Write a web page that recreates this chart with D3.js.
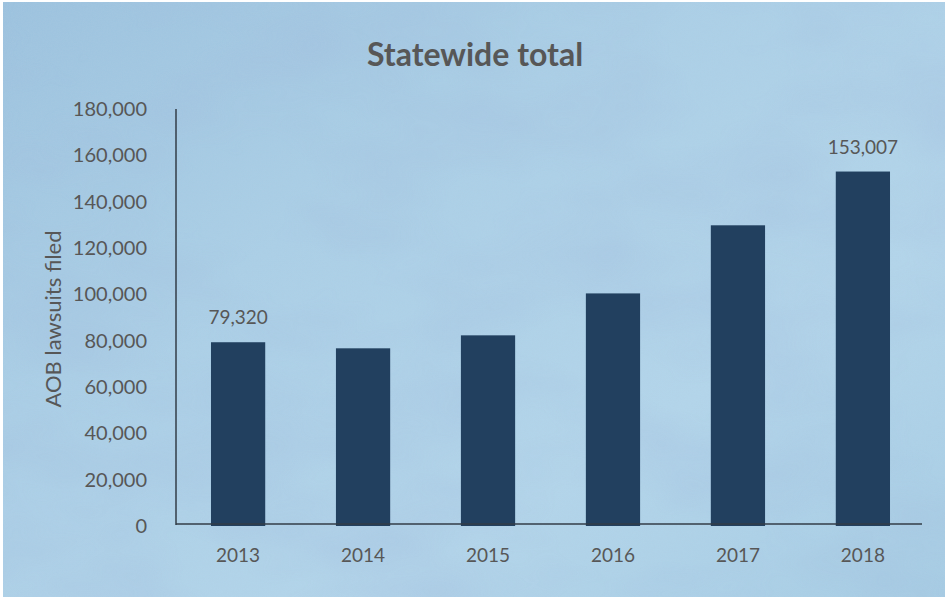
<!DOCTYPE html>
<html>
<head>
<meta charset="utf-8">
<script src="https://cdn.jsdelivr.net/npm/d3@7"></script>
<style>
  body { margin: 0; background: #fff; }
  text { font-family: Lato, "Open Sans", sans-serif; fill: #575757; }
  .title { font-size: 32px; font-weight: 700; }
  .tick-label { font-size: 20px; }
  .x-label { font-size: 19px; }
  .y-title { font-size: 22px; }
</style>
</head>
<body>
<svg width="945" height="597"></svg>
<script>
const width = 945;
const height = 597;

const years = ['2013', '2014', '2015', '2016', '2017', '2018'];
const lawsuits = [79320, 76700, 82300, 100400, 129800, 153007];
const yTicks = [0, 20000, 40000, 60000, 80000, 100000, 120000, 140000, 160000, 180000];
const labelled = ['2013', '2018'];

const data = years.map((y, i) => ({ year: y, value: lawsuits[i] }));

const svg = d3.select('svg');
const defs = svg.append('defs');

// watercolour paper background
const grad = defs.append('linearGradient')
    .attr('id', 'bg')
    .attr('x1', '0').attr('y1', '0')
    .attr('x2', '1').attr('y2', '1');
grad.append('stop').attr('offset', '0%').attr('stop-color', '#9cc2de');
grad.append('stop').attr('offset', '35%').attr('stop-color', '#abcfe6');
grad.append('stop').attr('offset', '70%').attr('stop-color', '#b3d5ea');
grad.append('stop').attr('offset', '100%').attr('stop-color', '#a7cde4');

const blotch = defs.append('filter').attr('id', 'blotch')
    .attr('x', 0).attr('y', 0).attr('width', '100%').attr('height', '100%');
blotch.append('feTurbulence')
    .attr('type', 'fractalNoise')
    .attr('baseFrequency', '0.006 0.012')
    .attr('numOctaves', 3)
    .attr('seed', 4);
blotch.append('feColorMatrix')
    .attr('values', '0 0 0 0 0.35  0 0 0 0 0.5  0 0 0 0 0.72  0 0 0 1.1 -0.4');

const grain = defs.append('filter').attr('id', 'grain')
    .attr('x', 0).attr('y', 0).attr('width', '100%').attr('height', '100%');
grain.append('feTurbulence')
    .attr('type', 'fractalNoise')
    .attr('baseFrequency', 0.8)
    .attr('numOctaves', 2)
    .attr('seed', 2);
grain.append('feColorMatrix')
    .attr('values', '0 0 0 0 0.45  0 0 0 0 0.6  0 0 0 0 0.75  0 0 0 0.5 -0.12');

svg.append('rect').attr('width', width).attr('height', height).attr('fill', '#fff');
svg.append('rect')
    .attr('x', 3).attr('y', 2)
    .attr('width', width - 3).attr('height', height - 2)
    .attr('fill', 'url(#bg)');
svg.append('rect')
    .attr('x', 3).attr('y', 2)
    .attr('width', width - 3).attr('height', height - 2)
    .attr('filter', 'url(#blotch)')
    .attr('opacity', 0.6);
svg.append('rect')
    .attr('x', 3).attr('y', 2)
    .attr('width', width - 3).attr('height', height - 2)
    .attr('filter', 'url(#grain)')
    .attr('opacity', 0.6);

const margin = { top: 109, bottom: 72, left: 176, right: 22 };
const innerWidth = width - margin.left - margin.right;
const innerHeight = height - margin.top - margin.bottom;

const xScale = d3.scaleBand()
    .domain(years)
    .range([0, innerWidth + 2])
    .paddingInner(0.566)
    .paddingOuter(0.28);

const yScale = d3.scaleLinear()
    .domain([0, 180000])
    .range([innerHeight + 1, 0]);

const g = svg.append('g')
    .attr('transform', 'translate(' + margin.left + ',' + margin.top + ')');

svg.append('text')
    .attr('class', 'title')
    .attr('x', 475)
    .attr('y', 66)
    .attr('text-anchor', 'middle')
    .text('Statewide total');

// y tick labels
g.selectAll('.ytick')
    .data(yTicks)
    .enter()
    .append('text')
    .attr('class', 'tick-label')
    .attr('x', -29)
    .attr('y', d => yScale(d))
    .attr('dy', '0.35em')
    .attr('text-anchor', 'end')
    .text(d => d3.format(',')(d));

// x labels
g.selectAll('.xtick')
    .data(years)
    .enter()
    .append('text')
    .attr('class', 'x-label')
    .attr('x', d => xScale(d) + xScale.bandwidth() / 2)
    .attr('y', innerHeight + 37)
    .attr('text-anchor', 'middle')
    .text(d => d);

g.selectAll('.bar')
    .data(data)
    .enter()
    .append('rect')
    .attr('x', d => xScale(d.year))
    .attr('y', d => yScale(d.value))
    .attr('width', xScale.bandwidth())
    .attr('height', d => yScale(0) - yScale(d.value))
    .attr('fill', '#22405f');

g.selectAll('.value-label')
    .data(data.filter(d => labelled.includes(d.year)))
    .enter()
    .append('text')
    .attr('class', 'x-label')
    .attr('x', d => xScale(d.year) + xScale.bandwidth() / 2)
    .attr('y', d => yScale(d.value) - 18)
    .attr('text-anchor', 'middle')
    .text(d => d3.format(',')(d.value));

// axis lines
g.append('line')
    .attr('x1', 0).attr('x2', 0)
    .attr('y1', 0).attr('y2', innerHeight)
    .attr('stroke', '#333d47')
    .attr('stroke-width', 1.5);
g.append('line')
    .attr('x1', 0).attr('x2', innerWidth - 1)
    .attr('y1', innerHeight - 1).attr('y2', innerHeight - 1)
    .attr('stroke', '#333d47')
    .attr('stroke-width', 1.5);

svg.append('text')
    .attr('class', 'y-title')
    .attr('transform', 'translate(61,319) rotate(-90)')
    .attr('text-anchor', 'middle')
    .text('AOB lawsuits filed');
</script>
</body>
</html>
